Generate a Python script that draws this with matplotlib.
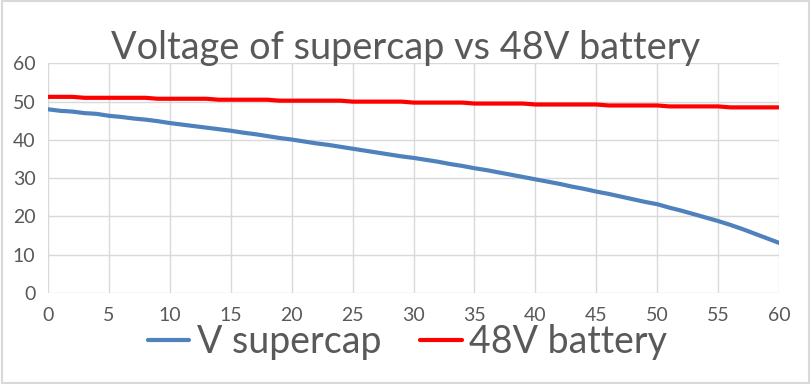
import matplotlib
matplotlib.use("Agg")
import matplotlib.pyplot as plt
from matplotlib.patches import Rectangle

# time axis (one sample per unit)
t = list(range(0, 61))

# supercap voltage
v_supercap = [48.0, 47.6, 47.4, 47.0, 46.8, 46.3, 46.0, 45.6, 45.3, 44.9,
              44.4, 44.0, 43.6, 43.2, 42.8, 42.4, 41.9, 41.5, 41.0, 40.5,
              40.1, 39.6, 39.1, 38.7, 38.2, 37.7, 37.2, 36.7, 36.2, 35.7,
              35.3, 34.8, 34.3, 33.7, 33.2, 32.6, 32.1, 31.5, 30.9, 30.3,
              29.7, 29.1, 28.5, 27.8, 27.2, 26.5, 25.9, 25.2, 24.5, 23.8,
              23.2, 22.3, 21.5, 20.6, 19.7, 18.8, 17.8, 16.7, 15.5, 14.3,
              13.1]

# 48V battery voltage (small steps)
v_battery = [51.25, 51.25, 51.25, 51.0, 51.0, 51.0, 51.0, 51.0, 51.0, 50.75,
             50.75, 50.75, 50.75, 50.75, 50.5, 50.5, 50.5, 50.5, 50.5, 50.25,
             50.25, 50.25, 50.25, 50.25, 50.25, 50.0, 50.0, 50.0, 50.0, 50.0,
             49.75, 49.75, 49.75, 49.75, 49.75, 49.5, 49.5, 49.5, 49.5, 49.5,
             49.25, 49.25, 49.25, 49.25, 49.25, 49.25, 49.0, 49.0, 49.0, 49.0,
             49.0, 48.75, 48.75, 48.75, 48.75, 48.75, 48.5, 48.5, 48.5, 48.5,
             48.5]

x_ticks = list(range(0, 61, 5))
y_ticks = list(range(0, 61, 10))

txt_col = "#595959"
grid_col = "#D9D9D9"
font = ["Lato", "DejaVu Sans"]

fig = plt.figure(figsize=(8.11, 3.84), dpi=100)
ax = fig.add_axes([0.0592, 0.237, 0.9014, 0.598])

#Lines
l1, = ax.plot(t, v_supercap, color="#4F81BD", lw=3, solid_capstyle="round")
l2, = ax.plot(t, v_battery, color="#FF0000", lw=3, solid_capstyle="round")

ax.set_xlim(0, 60)
ax.set_ylim(0, 60)
ax.set_xticks(x_ticks)
ax.set_yticks(y_ticks)
ax.grid(True, color=grid_col, lw=1)
ax.set_axisbelow(True)
for s in ax.spines.values():
    s.set_visible(False)
ax.tick_params(length=0, colors=txt_col, labelsize=14)
ax.tick_params(axis="x", pad=10)
ax.tick_params(axis="y", pad=9)
for lab in ax.get_xticklabels() + ax.get_yticklabels():
    lab.set_family(font)

#Title
fig.text(0.5, 0.875, "Voltage of supercap vs 48V battery", ha="center",
         va="center", fontsize=27.3, color=txt_col, family=font)

#Legend
fig.legend([l1, l2], ["V supercap", "48V battery"], loc="center",
           bbox_to_anchor=(0.5025, 0.11), ncol=2, frameon=False,
           prop={"family": font, "size": 27}, labelcolor=txt_col,
           handlelength=1.1, handletextpad=0.2, columnspacing=1.05)

#Chart border
fig.patches.append(Rectangle((0.002, 0.003), 0.996, 0.994, transform=fig.transFigure,
                             fill=False, edgecolor=grid_col, lw=1.5))

fig.savefig("out.png", dpi=100)
